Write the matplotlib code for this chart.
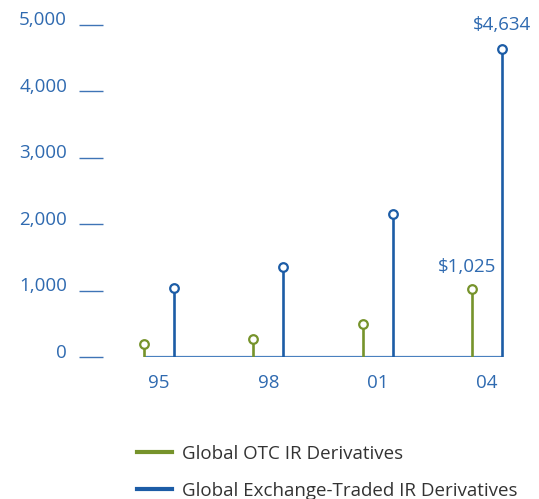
import matplotlib.pyplot as plt
from matplotlib.lines import Line2D
from matplotlib.transforms import ScaledTranslation

years = ['95', '98', '01', '04']
otc = [195, 275, 490, 1025]
exchange = [1040, 1360, 2160, 4634]
yticks = [0, 1000, 2000, 3000, 4000, 5000]

blue = '#1c5ca6'
green = '#76932b'
base_blue = '#4a80bf'
tick_blue = '#3f74b6'
text_blue = '#2f6ab0'

plt.rcParams['font.family'] = ['Open Sans', 'DejaVu Sans']

W, H = 539, 499
fig = plt.figure(figsize=(W / 100, H / 100), dpi=100)
# axes box in pixel terms: left 79, right 520, top 25, bottom 357
ax = fig.add_axes([79 / W, (H - 357) / H, (520 - 79) / W, (357 - 25) / H])

xs = list(range(len(years)))
off = 0.137

ax.hlines(0, xs[0] - off, xs[-1] + off, color=base_blue, lw=1.6, zorder=1)
for x, g, b in zip(xs, otc, exchange):
    ax.vlines(x - off, 0, g, color=green, lw=1.9, zorder=2)
    ax.vlines(x + off, 0, b, color=blue, lw=1.9, zorder=2)
ax.plot([x - off for x in xs], otc, 'o', ms=6.2, mfc='white', mec=green, mew=1.6, zorder=3)
ax.plot([x + off for x in xs], exchange, 'o', ms=6.2, mfc='white', mec=blue, mew=1.6, zorder=3)

ax.text(xs[-1] + off, exchange[-1] + 230, '$4,634', ha='center', va='bottom',
        color=text_blue, fontsize=13.5)
ax.text(xs[-1] - off - 0.05, otc[-1] + 200, '$1,025', ha='center', va='bottom',
        color=text_blue, fontsize=13.5)

ax.set_xlim(-0.732, 3.30)
ax.set_ylim(0, 5000)
ax.set_yticks(yticks)
ax.set_yticklabels([f'{v:,}' for v in yticks])
ax.set_xticks(xs)
ax.set_xticklabels(years)
ax.tick_params(axis='y', direction='in', length=17, width=1.0, color=tick_blue,
               pad=8.6, labelcolor=text_blue, labelsize=13.5)
ax.tick_params(axis='x', length=0, pad=12, labelcolor=text_blue, labelsize=13.5)
shift = ScaledTranslation(0, 6.5 / 100, fig.dpi_scale_trans)
for lab in ax.get_yticklabels():
    lab.set_transform(lab.get_transform() + shift)
for s in ax.spines.values():
    s.set_visible(False)
ax.patch.set_alpha(0)

handles = [Line2D([], [], color=green, lw=3), Line2D([], [], color=blue, lw=3)]
fig.legend(handles, ['Global OTC IR Derivatives', 'Global Exchange-Traded IR Derivatives'],
           loc='upper left', bbox_to_anchor=(137 / W, 1 - 445 / H), frameon=False,
           fontsize=13.5, handlelength=1.85, handletextpad=0.55, labelspacing=1.0,
           labelcolor='#333333', borderaxespad=0, borderpad=0)

fig.savefig('out.png', dpi=100)
